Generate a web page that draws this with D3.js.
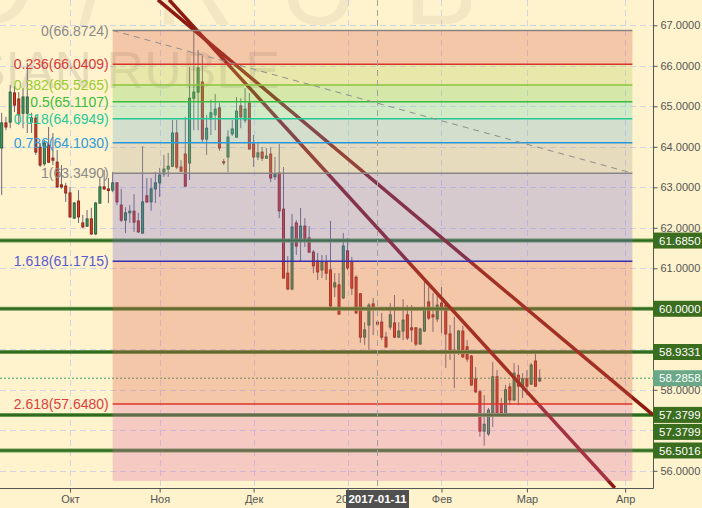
<!DOCTYPE html>
<html><head><meta charset="utf-8">
<script src="https://cdn.jsdelivr.net/npm/d3@7"></script>
<style>
body{margin:0;background:#fff3cd;}
svg{display:block;font-family:"Liberation Sans",Arial,sans-serif;}
</style>
</head><body><svg id="c" width="702" height="508"></svg>
<script>
// ---------- DATA ----------
const startDate = "2016-09-09"; // first candle (daily, trading days)
const opens  = [63.97,64.59,64.61,65.33,65.18,64.83,64.83,64.61,64.71,63.99,63.58,64.04,63.72,63.62,63.06,63.03,
  62.86,62.24,62.66,62.12,62.04,62.22,61.85,62.61,63.01,62.96,62.93,63.11,62.56,62.19,62.37,62.41,62.17,61.87,62.79,62.64,62.96,63.11,63.33,63.45,63.52,64.34,63.50,63.82,63.60,65.20,65.35,65.60,64.19,64.69,64.79,64.96,63.63,63.75,64.32,64.24,65.01,64.66,65.08,64.07,63.75,63.87,63.72,63.82,63.26,63.35,62.46,60.88,60.49,62.12,61.72,62.04,61.75,61.40,61.18,60.96,61.16,60.96,60.54,60.59,60.27,61.43,61.16,60.78,60.37,59.30,59.60,60.12,59.67,59.67,59.30,59.55,59.65,59.30,59.45,59.85,59.53,59.53,59.13,59.45,60.17,59.85,59.75,60.14,60.09,59.38,58.98,58.91,59.45,59.06,58.83,58.27,57.95,56.98,56.91,57.43,58.32,57.65,57.35,58.07,57.75,58.36,58.09,58.27,58.14,58.71,58.22];
const highs  = [64.84,64.74,65.53,65.50,65.35,65.45,66.07,64.84,64.79,64.09,64.17,64.49,64.34,63.92,63.55,63.11,
  63.01,62.64,62.93,62.32,62.44,62.49,62.64,63.23,63.43,63.23,63.38,63.13,62.96,62.51,62.56,62.83,62.37,64.02,63.23,63.23,63.38,63.48,63.80,63.85,64.66,64.66,63.67,64.74,65.97,66.87,66.39,66.24,64.79,65.16,65.30,65.08,63.70,64.41,64.66,65.23,65.20,65.45,65.33,64.29,64.09,63.99,63.97,63.99,63.75,64.07,63.50,61.30,62.34,62.19,62.49,62.24,62.04,61.45,61.38,61.33,61.33,62.17,60.88,60.88,61.87,61.75,61.28,60.83,60.39,59.67,60.14,60.27,59.72,59.90,59.43,60.14,60.34,59.67,60.24,60.09,60.09,59.55,59.53,60.71,60.54,60.39,60.34,60.54,60.14,59.60,59.80,59.48,59.58,59.23,58.86,58.56,58.00,57.87,57.55,58.69,58.49,57.80,58.12,58.17,58.66,58.61,58.41,58.49,58.66,58.98,58.51];
const lows   = [62.81,64.41,64.46,64.86,64.54,64.46,64.34,64.34,63.80,63.50,63.53,63.60,63.55,62.98,62.96,62.64,
  62.24,62.22,62.12,62.00,62.02,61.82,61.82,62.59,62.93,62.61,62.88,62.56,62.14,61.87,62.12,61.90,61.87,61.85,62.61,62.42,62.61,62.76,63.26,63.26,63.50,63.45,63.38,63.01,63.18,64.41,64.41,64.12,63.80,64.29,64.41,63.90,63.55,63.38,64.27,64.22,64.46,64.59,63.92,63.50,63.67,63.65,63.70,63.13,63.18,62.24,60.74,60.46,60.46,61.33,61.16,61.53,61.38,60.88,60.71,60.76,60.71,60.04,60.29,59.85,60.24,60.96,60.34,59.87,59.16,59.11,58.98,59.35,59.57,59.23,59.03,59.48,59.28,59.28,59.23,59.23,59.18,59.08,59.11,59.43,59.72,59.43,59.67,59.40,58.54,58.74,58.04,58.86,58.79,58.69,58.09,57.92,56.84,56.62,56.86,57.08,57.38,57.38,57.33,57.62,57.72,57.62,57.80,57.87,58.12,58.07,58.19];
const closes = [64.59,64.49,65.35,65.03,64.79,65.23,65.23,64.71,63.87,63.55,64.09,63.62,63.67,63.01,63.01,62.86,
  62.27,62.61,62.27,62.02,62.22,61.85,62.61,63.01,62.96,62.92,63.11,62.64,62.19,62.37,62.41,62.14,61.90,62.64,62.64,62.96,63.11,63.30,63.45,63.52,64.34,63.50,63.40,63.03,65.20,65.35,65.95,64.19,64.46,64.84,64.93,63.97,63.62,64.24,64.44,64.88,64.74,64.93,63.95,63.75,63.85,63.72,63.77,63.23,63.33,62.42,60.76,60.49,62.02,61.55,62.04,61.72,61.40,61.06,60.91,61.16,60.88,60.07,60.64,59.87,61.55,61.01,60.51,59.90,59.30,59.48,60.09,60.02,59.62,59.30,59.06,59.85,59.30,59.45,59.72,59.28,59.48,59.13,59.50,60.02,59.77,59.80,60.09,60.04,59.38,58.93,58.91,59.45,58.81,58.76,58.12,57.95,56.98,57.15,57.50,58.32,57.43,57.43,58.00,57.75,58.41,58.09,58.27,58.09,58.61,58.09,58.2858];

const fibRatios  = ["0","0.236","0.382","0.5","0.618","0.786","1","1.618","2.618"];
const fibValues  = [66.8724,66.0409,65.5265,65.1107,64.6949,64.1030,63.3490,61.1715,57.6480];
const fibExtValue = 55.75;                    // lower edge of the last zone
const fibStartDate = "2016-10-17";
const fibEndIndex = 147.7;                    // trading-day position where the fib box ends
const fibLineColors  = ["#8a8585","#d8342c","#8cc43c","#3cba3c","#22c896","#2a98d8","#8a8585","#3a2eae","#e0342c"];
const fibLabelColors = ["#8a8a8a","#d83a3a","#9acc32","#3cbc3c","#26c89a","#2f9ad8","#8a8a8a","#5a5ad0","#e04040"];
const fibZoneColors  = ["rgb(220,100,84)","rgb(184,206,92)","rgb(116,210,88)","rgb(108,214,186)","rgb(112,174,202)","rgb(172,164,150)","rgb(118,108,208)","rgb(220,100,84)","rgb(220,108,172)"];

const levelValues = [61.6850,60.0000,58.9331,57.3799,56.5016];
const lastPrice = 58.2858;
const trendStartIdx = [36.6,39.2], trendStartVal = [67.63,67.63];
const trendEndIdx   = [152.53,143.6], trendEndVal = [57.3799,55.575];
const axisBoxes = [61.6850,60.0000,58.9331,57.3799,57.3799,56.5016];

const yTicks = [56,57,58,59,60,61,62,63,64,65,66,67];
const monthTickDates  = ["2016-10-03","2016-11-01","2016-12-01","2017-01-02","2017-02-01","2017-03-01","2017-04-03"];
const monthTickLabels = ["Окт","Ноя","Дек","2017","Фев","Мар","Апр"];
const crosshairDate = "2017-01-11";
const watermarkTop = "USD/RUB";
const watermarkSub = "RUSSIAN RUBLE";
const xDomain = [-0.39,152.53];
const yDomain = [55.575,67.625];

// ---------- LAYOUT ----------
const plotR = 653, plotB = 488;
const svg = d3.select("#c");
function tradingDays(start,n){const out=[];let d=new Date(start+"T00:00:00Z");
  while(out.length<n){const wd=d.getUTCDay(); if(wd!==0&&wd!==6) out.push(d.toISOString().slice(0,10)); d=new Date(d.getTime()+86400000);} return out;}
const days = tradingDays(startDate,200);
const dayIdx = new Map(days.map((d,i)=>[d,i]));
const x = d3.scaleLinear().domain(xDomain).range([0,plotR]);
const y = d3.scaleLinear().domain(yDomain).range([plotB,0]);

svg.append("rect").attr("width",702).attr("height",508).attr("fill","#fff3cd");
const defs = svg.append("defs");
defs.append("clipPath").attr("id","plot").append("rect").attr("width",plotR).attr("height",plotB);
defs.append("clipPath").attr("id","zone").append("rect").attr("width",plotR).attr("height",481);
const g = svg.append("g").attr("clip-path","url(#plot)");

// grid
g.selectAll(".hg").data(yTicks).join("line").attr("x1",0).attr("x2",plotR)
 .attr("y1",d=>Math.round(y(d))+0.5).attr("y2",d=>Math.round(y(d))+0.5)
 .attr("stroke","#d3d3e3").attr("stroke-dasharray","6,4");
g.selectAll(".vg").data(monthTickDates).join("line")
 .attr("x1",d=>Math.round(x(dayIdx.get(d)))+0.5).attr("x2",d=>Math.round(x(dayIdx.get(d)))+0.5)
 .attr("y1",0).attr("y2",plotB).attr("stroke","#d3d3e3").attr("stroke-dasharray","6,4");

// watermark
g.append("text").attr("x",-288).attr("y",24).attr("font-size",110).attr("fill","#000").attr("opacity",0.045)
 .attr("letter-spacing",45).text(watermarkTop);
g.append("text").attr("x",280).attr("y",88).attr("text-anchor","end").attr("font-size",52).attr("fill","#000").attr("opacity",0.09).text(watermarkSub);

// candles
const candles = opens.map((o,i)=>({i,o,h:highs[i],l:lows[i],c:closes[i]}));
const cg = g.append("g");
cg.selectAll("line").data(candles).join("line")
 .attr("x1",d=>x(d.i)).attr("x2",d=>x(d.i)).attr("y1",d=>y(d.h)).attr("y2",d=>y(d.l))
 .attr("stroke","#6e6878").attr("stroke-width",1);
cg.selectAll("rect").data(candles).join("rect")
 .attr("x",d=>x(d.i)-1).attr("width",2)
 .attr("y",d=>y(Math.max(d.o,d.c))).attr("height",d=>Math.max(1,Math.abs(y(d.o)-y(d.c))))
 .attr("fill",d=>d.c>=d.o?"#44a064":"#e0402c")
 .attr("stroke",d=>d.c>=d.o?"#2c6040":"#8a2418").attr("stroke-width",1);

// horizontal levels
g.selectAll(".lv").data(levelValues).join("line").attr("x1",0).attr("x2",plotR)
 .attr("y1",d=>y(d)).attr("y2",d=>y(d)).attr("stroke","#6a9a50").attr("stroke-width",4);
g.selectAll(".lv2").data(levelValues).join("line").attr("x1",0).attr("x2",plotR)
 .attr("y1",d=>y(d)).attr("y2",d=>y(d)).attr("stroke","#2e6a20").attr("stroke-width",2);
g.append("line").attr("x1",0).attr("x2",plotR).attr("y1",y(lastPrice)).attr("y2",y(lastPrice))
 .attr("stroke","#3e9a6a").attr("stroke-dasharray","2,2");

// trend lines
trendStartIdx.forEach((s,i)=>{
  g.append("line").attr("x1",x(s)).attr("y1",y(trendStartVal[i])).attr("x2",x(trendEndIdx[i])).attr("y2",y(trendEndVal[i]))
   .attr("stroke","#8c1a12").attr("stroke-width",3.5);
});

// fib zones (semi-transparent overlay)
const fx1 = x(dayIdx.get(fibStartDate)), fx2 = x(fibEndIndex);
const zg = g.append("g").attr("clip-path","url(#zone)");
fibValues.forEach((v,j)=>{
  const lo = j<fibValues.length-1 ? fibValues[j+1] : fibExtValue;
  zg.append("rect").attr("x",fx1).attr("width",fx2-fx1).attr("y",y(v)).attr("height",y(lo)-y(v))
    .attr("fill",fibZoneColors[j]).attr("opacity",0.3);
});
fibValues.forEach((v,j)=>{
  g.append("line").attr("x1",fx1).attr("x2",fx2).attr("y1",y(v)).attr("y2",y(v))
   .attr("stroke",fibLineColors[j]).attr("stroke-width",1.5);
});
g.append("line").attr("x1",fx1).attr("y1",y(fibValues[0])).attr("x2",fx2).attr("y2",y(fibValues[6]))
 .attr("stroke","#8e8e8e").attr("stroke-dasharray","6,5").attr("stroke-width",1);
svg.selectAll(".fl").data(fibValues).join("text")
 .attr("x",fx1-4).attr("y",d=>y(d)).attr("dy","0.36em").attr("text-anchor","end")
 .attr("font-size",14).attr("fill",(d,j)=>fibLabelColors[j])
 .text((d,j)=>fibRatios[j]+"("+d.toFixed(4)+")");

// crosshair
const chx = Math.round(x(dayIdx.get(crosshairDate)))+0.5;
g.append("line").attr("x1",chx).attr("x2",chx).attr("y1",0).attr("y2",plotB)
 .attr("stroke","#a0a0a0").attr("stroke-dasharray","6,4");

// axes
svg.append("line").attr("x1",plotR+0.5).attr("x2",plotR+0.5).attr("y1",0).attr("y2",plotB+0.5).attr("stroke","#555");
svg.append("line").attr("x1",0).attr("x2",plotR+0.5).attr("y1",plotB+0.5).attr("y2",plotB+0.5).attr("stroke","#555");
const ya = svg.append("g").attr("transform",`translate(${plotR+0.5},0)`)
 .call(d3.axisRight(y).tickValues(yTicks).tickSize(4).tickPadding(3).tickFormat(d3.format(".4f")));
ya.select(".domain").remove();
ya.selectAll("text").attr("font-size",11).attr("fill","#555").attr("font-family","Liberation Sans, Arial");
ya.selectAll("line").attr("stroke","#555");
const xa = svg.append("g").attr("transform",`translate(0,${plotB+0.5})`)
 .call(d3.axisBottom(x).tickValues(monthTickDates.map(d=>dayIdx.get(d))).tickSize(4).tickPadding(3)
   .tickFormat((d,i)=>monthTickLabels[i]));
xa.select(".domain").remove();
xa.selectAll("text").attr("font-size",11).attr("fill","#555").attr("font-family","Liberation Sans, Arial");
xa.selectAll("line").attr("stroke","#555");

// crosshair date box
const cbw = 63;
svg.append("rect").attr("x",chx-cbw/2).attr("y",490).attr("width",cbw).attr("height",18).attr("fill","#505050");
svg.append("text").attr("x",chx).attr("y",499).attr("dy","0.36em").attr("text-anchor","middle")
 .attr("font-size",11.5).attr("font-weight","bold").attr("fill","#fff").text(crosshairDate);

// right axis boxes (with simple collision avoidance)
let lastY = -100; const bh = 16;
axisBoxes.forEach(v=>{
  let cy = y(v); if (cy < lastY+bh+1) cy = lastY+bh+1; lastY = cy;
  svg.append("rect").attr("x",plotR).attr("y",cy-bh/2).attr("width",702-plotR).attr("height",bh).attr("fill","#3b6d1e");
  svg.append("text").attr("x",plotR+6).attr("y",cy).attr("dy","0.36em").attr("font-size",11.5).attr("fill","#fff").text(v.toFixed(4));
});
const py = y(lastPrice);
svg.append("rect").attr("x",plotR).attr("y",py-bh/2).attr("width",702-plotR).attr("height",bh).attr("fill","#6aa888");
svg.append("text").attr("x",plotR+6).attr("y",py).attr("dy","0.36em").attr("font-size",11.5).attr("fill","#fff").text(lastPrice.toFixed(4));
</script>
</body></html>
